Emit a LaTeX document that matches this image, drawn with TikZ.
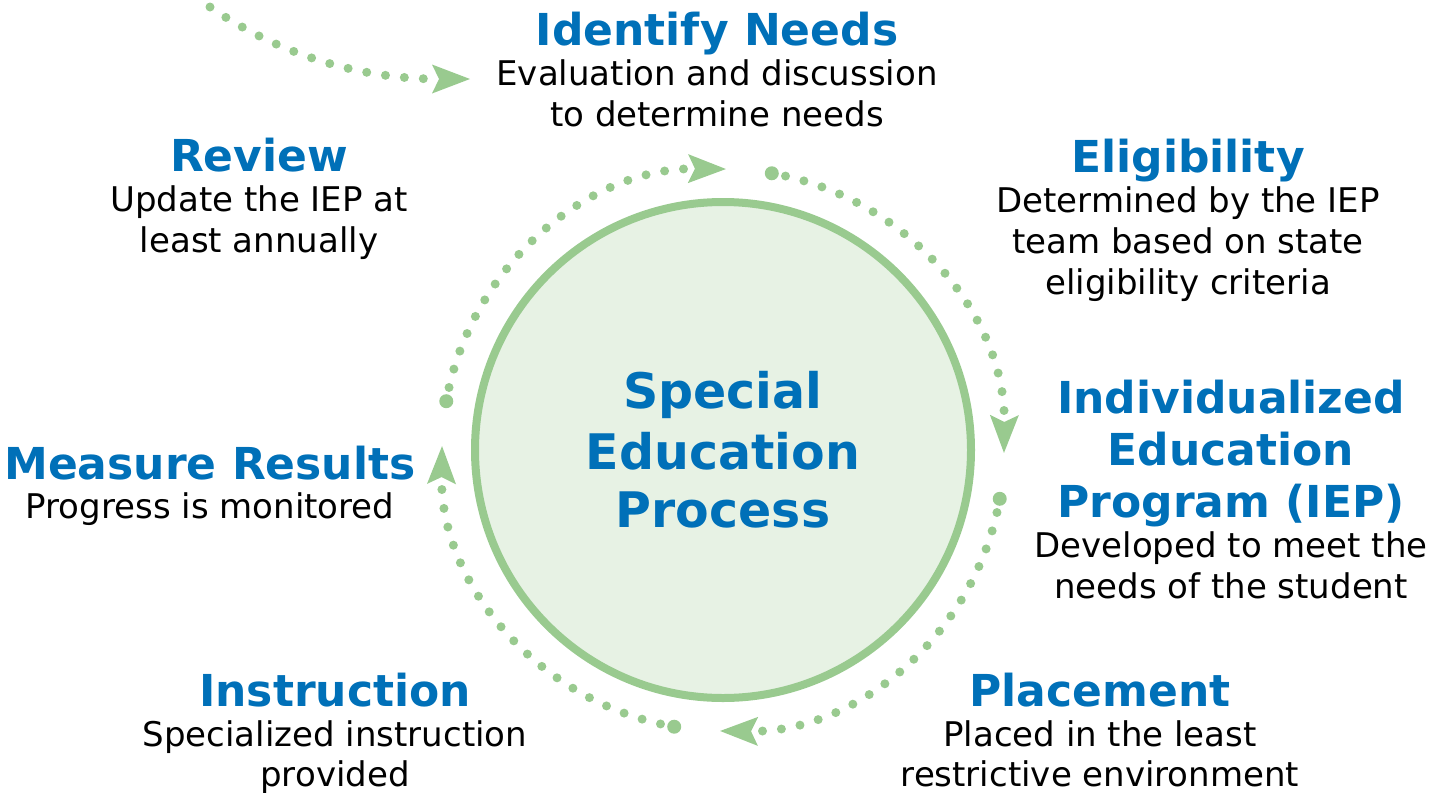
\documentclass[tikz,border=0pt]{standalone}
\usepackage{fontspec}
\setmainfont{DejaVu Sans}
\usetikzlibrary{arrows.meta,calc}
\definecolor{sgreen}{HTML}{99CA8F}
\definecolor{sfill}{HTML}{E7F2E4}
\definecolor{sblue}{HTML}{0070B8}
\tikzset{
 ttl/.style={anchor=base, inner sep=0pt, text=sblue, font=\bfseries\fontsize{22}{26}\selectfont},
 bdy/.style={anchor=base, inner sep=0pt, text=black, font=\fontsize{17}{20}\selectfont},
 ctr/.style={anchor=base, inner sep=0pt, text=sblue, font=\bfseries\fontsize{24.5}{30}\selectfont},
 ringarc/.style={draw=sgreen, line width=4.5pt, line cap=round, dash pattern=on 0pt off 9.5pt, dash phase=2.5pt,
   -{Stealth[length=19pt,width=14.5pt,inset=3.5pt,line width=0pt]}},
 startdot/.style={fill=sgreen, circle, inner sep=0pt, minimum size=7pt},
 hub/.style={circle, draw=sgreen, fill=sfill, line width=4pt, minimum size=248pt, inner sep=0pt}
}
\begin{document}
\begin{tikzpicture}[x=0.5pt,y=-0.5pt]
\useasboundingbox (0,0) rectangle (1447,793);
\coordinate (C) at (723,450);
\node[hub] (hubc) at (C) {};
% ring arcs
\coordinate (s1) at ($(C)+(-170:281)$);
\coordinate (s2) at ($(C)+(-80:281)$);
\coordinate (s3) at ($(C)+(10:281)$);
\coordinate (s4) at ($(C)+(100:281)$);
\draw[ringarc] (s1) arc[start angle=-170, end angle=-89.4, radius=281];
\draw[ringarc] (s2) arc[start angle=-80, end angle=0.6, radius=281];
\draw[ringarc] (s3) arc[start angle=10, end angle=90.6, radius=281];
\draw[ringarc] (s4) arc[start angle=100, end angle=180.8, radius=281];
\node[startdot] (d1) at (s1) {};
\node[startdot] (d2) at (s2) {};
\node[startdot] (d3) at (s3) {};
\node[startdot] (d4) at (s4) {};
% incoming curve
\coordinate (t0) at (210,7);
\coordinate (t1) at (470,79);
\draw[ringarc, dash phase=0pt] (t0) .. controls (280,55) and (360,79) .. (t1);
% center
\node[ctr] (c1) at (723,408) {Special};
\node[ctr] (c2) at (723,469) {Education};
\node[ctr] (c3) at (723,527) {Process};
% Identify Needs
\node[ttl] (idt) at (717,45) {Identify Needs};
\node[bdy] (idb1) at (717,85) {Evaluation and discussion};
\node[bdy] (idb2) at (717,126) {to determine needs};
% Review
\node[ttl] (rvt) at (259,171) {Review};
\node[bdy] (rvb1) at (259,211) {Update the IEP at};
\node[bdy] (rvb2) at (259,252) {least annually};
% Eligibility
\node[ttl] (elt) at (1188,172) {Eligibility};
\node[bdy] (elb1) at (1188,212) {Determined by the IEP};
\node[bdy] (elb2) at (1188,253) {team based on state};
\node[bdy] (elb3) at (1188,294) {eligibility criteria};
% IEP
\node[ttl] (iet1) at (1231,413) {Individualized};
\node[ttl] (iet2) at (1231,465) {Education};
\node[ttl] (iet3) at (1231,517) {Program (IEP)};
\node[bdy] (ieb1) at (1231,557) {Developed to meet the};
\node[bdy] (ieb2) at (1231,598) {needs of the student};
% Placement
\node[ttl] (plt) at (1100,706) {Placement};
\node[bdy] (plb1) at (1100,746) {Placed in the least};
\node[bdy] (plb2) at (1100,786) {restrictive environment};
% Instruction
\node[ttl] (int) at (335,706) {Instruction};
\node[bdy] (inb1) at (335,746) {Specialized instruction};
\node[bdy] (inb2) at (335,786) {provided};
% Measure Results
\node[ttl] (mrt) at (210,479) {Measure Results};
\node[bdy] (mrb) at (210,518) {Progress is monitored};
\end{tikzpicture}
\end{document}
